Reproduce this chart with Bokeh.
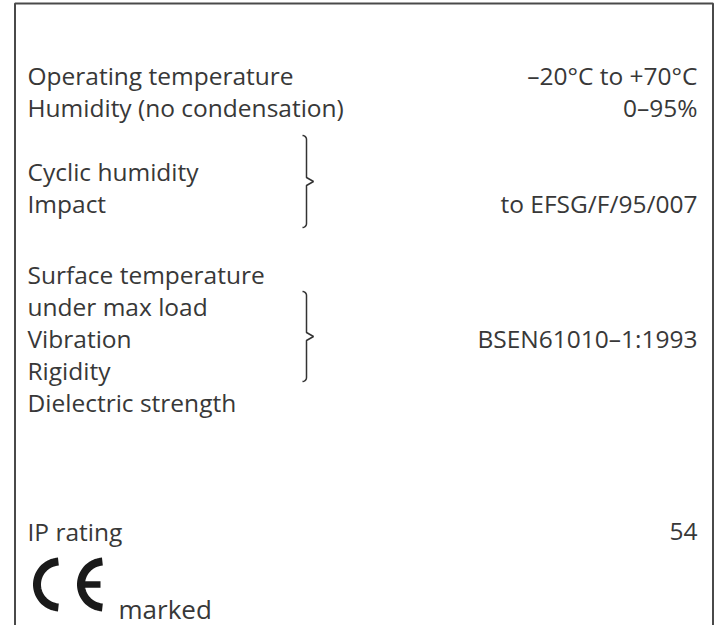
import numpy as np
from bokeh.plotting import figure
from bokeh.models import Range1d
from bokeh.core.properties import value
from bokeh.embed import file_html
from bokeh.resources import INLINE

# ---- content -------------------------------------------------------------
left_labels = ["Operating temperature", "Humidity (no condensation)",
               "Cyclic humidity", "Impact",
               "Surface temperature", "under max load", "Vibration", "Rigidity", "Dielectric strength",
               "IP rating"]
left_rows = [75, 107, 171, 203, 274, 306, 338, 370, 402, 531]

right_values = ["\u201320\u00b0C to +70\u00b0C", "0\u201395%", "to EFSG/F/95/007", "BSEN61010\u20131:1993", "54"]
right_rows = [75, 107, 203, 338, 531]

brace_spans = [(135, 227), (291, 381)]
mark_label = "marked"

FONT = "Open Sans"
TXT = "#383838"
FS = "24.5px"

W, H = 719, 625
p = figure(width=W, height=H, output_backend="svg", toolbar_location=None,
           x_range=Range1d(0, W), y_range=Range1d(H, 0),
           min_border=0)
p.axis.visible = False
p.grid.visible = False
p.outline_line_color = None
p.background_fill_color = "white"
p.border_fill_color = "white"

# frame (open at bottom)
p.line(x=[14.5, 14.5, 712.5, 712.5], y=[640, 3, 3, 640], line_color="#4a4a4a", line_width=2)

# left column
p.text(x=[27] * len(left_labels), y=left_rows, text=left_labels,
       text_font=value(FONT), text_font_size=FS, text_color=TXT,
       text_baseline="middle", text_align="left")

# right column
p.text(x=[697] * len(right_values), y=right_rows, text=right_values,
       text_font=value(FONT), text_font_size=FS, text_color=TXT,
       text_baseline="middle", text_align="right")

# braces
def brace(top, bot, x0=302.0, xv=306.0, xt=313.0):
    mid = (top + bot) / 2.0
    t = np.linspace(0, np.pi / 2, 8)
    r = 4.0
    xs, ys = [], []
    xs += list(x0 + (xv - x0) * np.sin(t)); ys += list(top + r * (1 - np.cos(t)))
    xs += [xv, xv]; ys += [top + r, mid - 4]
    xs += [xt]; ys += [mid]
    xs += [xv, xv]; ys += [mid + 4, bot - r]
    xs += list(xv - (xv - x0) * (1 - np.cos(t))); ys += list(bot - r + r * np.sin(t))
    return xs, ys

for top, bot in brace_spans:
    bx, by = brace(top, bot)
    p.line(bx, by, line_color="#333333", line_width=1.5)

# CE mark
def arc_pts(cx, cy, r, a0, a1, n=40):
    a = np.radians(np.linspace(a0, a1, n))
    return cx + r * np.cos(a), cy - r * np.sin(a)

cx_, cy_ = arc_pts(59.5, 584, 23, 94, 266)
p.line(cx_, cy_, line_color="#1a1a1a", line_width=8, line_cap="butt")
ex_, ey_ = arc_pts(103.5, 584, 23, 94, 266)
p.line(ex_, ey_, line_color="#1a1a1a", line_width=8, line_cap="butt")
p.line([82, 100], [584, 584], line_color="#1a1a1a", line_width=6.5)

p.text(x=[118], y=[608], text=[mark_label], text_font=value(FONT), text_font_size="26px",
       text_color=TXT, text_baseline="alphabetic", text_align="left")

open("out.html", "w").write(file_html(p, INLINE))
